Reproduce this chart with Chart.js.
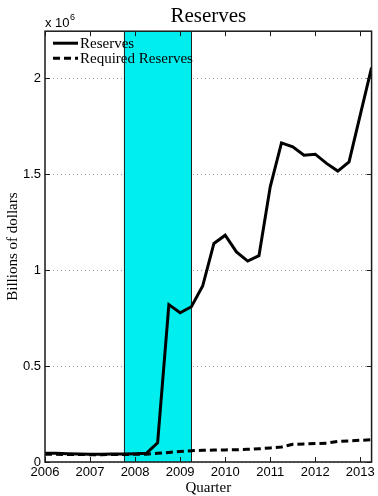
<!DOCTYPE html>
<html lang="en">
<head>
<meta charset="UTF-8">
<title>Reserves</title>
<script src="https://cdn.jsdelivr.net/npm/chart.js"></script>
<style>
    html, body {
        margin: 0;
        padding: 0;
        background: #ffffff;
    }
    #wrap {
        width: 378px;
        height: 496px;
    }
</style>
</head>
<body>
<div id="wrap"><canvas id="reservesChart"></canvas></div>
<script>
// Quarterly observations, 2006Q1 - 2013Q2 (values in units of 10^6)
const quarters = [
    2006, 2006.25, 2006.5, 2006.75,
    2007, 2007.25, 2007.5, 2007.75,
    2008, 2008.25, 2008.5, 2008.75,
    2009, 2009.25, 2009.5, 2009.75,
    2010, 2010.25, 2010.5, 2010.75,
    2011, 2011.25, 2011.5, 2011.75,
    2012, 2012.25, 2012.5, 2012.75,
    2013, 2013.25
];
const reserves = [
    0.046, 0.045, 0.043, 0.042,
    0.040, 0.041, 0.042, 0.042,
    0.043, 0.045, 0.100, 0.820,
    0.778, 0.809, 0.917, 1.139,
    1.182, 1.095, 1.047, 1.075,
    1.434, 1.663, 1.642, 1.599,
    1.604, 1.556, 1.516, 1.564,
    1.810, 2.055
];
const requiredReserves = [
    0.040, 0.040, 0.039, 0.039,
    0.038, 0.038, 0.039, 0.039,
    0.040, 0.041, 0.045, 0.050,
    0.055, 0.059, 0.061, 0.062,
    0.063, 0.064, 0.066, 0.069,
    0.073, 0.078, 0.092, 0.094,
    0.096, 0.098, 0.107, 0.110,
    0.113, 0.116
];
const seriesNames = ['Reserves', 'Required Reserves'];
const yearTicks = [2006, 2007, 2008, 2009, 2010, 2011, 2012, 2013];

// recession band
const recessionStart = 2007.75;
const recessionEnd = 2009.25;

const toPoints = vals => quarters.map((q, i) => ({ x: q, y: vals[i] }));

const serif = 'Liberation Serif, Times New Roman, serif';
const sans = 'Liberation Sans, Arial, sans-serif';

// shaded band, axes box with inward ticks, legend and the exponent label
const frame = {
    id: 'frame',
    beforeDatasetsDraw(chart) {
        const { ctx, chartArea: a, scales: { x } } = chart;
        const x0 = x.getPixelForValue(recessionStart);
        const x1 = x.getPixelForValue(recessionEnd);
        ctx.save();
        ctx.fillStyle = '#00eeee';
        ctx.fillRect(x0, a.top, x1 - x0, a.bottom - a.top);
        ctx.strokeStyle = '#222';
        ctx.lineWidth = 1;
        ctx.beginPath();
        ctx.moveTo(Math.round(x0) + 0.5, a.top);
        ctx.lineTo(Math.round(x0) + 0.5, a.bottom);
        ctx.moveTo(Math.round(x1) + 0.5, a.top);
        ctx.lineTo(Math.round(x1) + 0.5, a.bottom);
        ctx.stroke();
        ctx.restore();
    },
    afterDatasetsDraw(chart) {
        const { ctx, chartArea: a, scales: { x, y } } = chart;
        ctx.save();
        ctx.strokeStyle = '#1a1a1a';
        ctx.lineWidth = 1.5;
        ctx.strokeRect(a.left, a.top, a.right - a.left, a.bottom - a.top);
        ctx.lineWidth = 1;
        ctx.beginPath();
        x.ticks.forEach(t => {
            const px = Math.round(x.getPixelForValue(t.value)) + 0.5;
            ctx.moveTo(px, a.bottom); ctx.lineTo(px, a.bottom - 5);
            ctx.moveTo(px, a.top); ctx.lineTo(px, a.top + 5);
        });
        y.ticks.forEach(t => {
            const py = Math.round(y.getPixelForValue(t.value)) + 0.5;
            ctx.moveTo(a.left, py); ctx.lineTo(a.left + 5, py);
            ctx.moveTo(a.right, py); ctx.lineTo(a.right - 5, py);
        });
        ctx.stroke();
        ctx.restore();
    },
    afterDraw(chart) {
        const { ctx, chartArea: a } = chart;
        ctx.save();
        // legend
        const rows = [a.top + 12, a.top + 27];
        chart.data.datasets.forEach((ds, i) => {
            const yy = rows[i];
            ctx.strokeStyle = ds.borderColor;
            ctx.lineWidth = ds.borderWidth;
            ctx.setLineDash(ds.borderDash || []);
            ctx.beginPath();
            ctx.moveTo(a.left + 8, yy);
            ctx.lineTo(a.left + 33, yy);
            ctx.stroke();
            ctx.setLineDash([]);
            ctx.fillStyle = '#000';
            ctx.font = '15px ' + serif;
            ctx.textBaseline = 'middle';
            ctx.textAlign = 'left';
            ctx.fillText(ds.label, a.left + 35, yy + 1);
        });
        // exponent above the y axis
        ctx.fillStyle = '#000';
        ctx.textBaseline = 'alphabetic';
        ctx.font = '13px ' + sans;
        ctx.fillText('x 10', a.left, a.top - 4);
        const w = ctx.measureText('x 10').width;
        ctx.font = '9px ' + sans;
        ctx.fillText('6', a.left + w + 0.5, a.top - 11);
        ctx.restore();
    }
};

new Chart(document.getElementById('reservesChart'), {
    type: 'line',
    data: {
        datasets: [{
            label: seriesNames[0],
            data: toPoints(reserves),
            borderColor: '#000',
            borderWidth: 3,
            pointRadius: 0,
            tension: 0,
            fill: false
        }, {
            label: seriesNames[1],
            data: toPoints(requiredReserves),
            borderColor: '#000',
            borderWidth: 3,
            borderDash: [7, 4],
            pointRadius: 0,
            tension: 0,
            fill: false
        }]
    },
    options: {
        responsive: true,
        maintainAspectRatio: false,
        animation: false,
        layout: { padding: { left: 0, right: 4, top: 0, bottom: 0 } },
        plugins: {
            legend: { display: false },
            tooltip: { enabled: false },
            title: {
                display: true,
                text: 'Reserves',
                fullSize: false,
                color: '#000',
                font: { family: serif, size: 21, weight: 'normal', lineHeight: 1.2 },
                padding: { top: 4, bottom: 2 }
            }
        },
        scales: {
            x: {
                type: 'linear',
                min: 2006,
                max: 2013.25,
                afterBuildTicks(scale) {
                    scale.ticks = yearTicks.map(v => ({ value: v }));
                },
                afterFit(scale) { scale.height = 34; },
                grid: { display: false, drawTicks: false },
                border: { display: false },
                ticks: {
                    padding: 3,
                    color: '#000',
                    maxRotation: 0,
                    autoSkip: false,
                    font: { family: sans, size: 13 },
                    callback: v => String(v)
                },
                title: {
                    display: true,
                    text: 'Quarter',
                    color: '#000',
                    font: { family: serif, size: 15, lineHeight: 1 },
                    padding: { top: 0, bottom: 0 }
                }
            },
            y: {
                min: 0,
                max: 2.245,
                afterFit(scale) { scale.width = 45; },
                grid: { color: '#999', lineWidth: 1, drawTicks: false },
                border: { display: false, dash: [1, 3] },
                ticks: {
                    stepSize: 0.5,
                    includeBounds: false,
                    padding: 4,
                    color: '#000',
                    font: { family: sans, size: 13 },
                    callback: v => String(v)
                },
                title: {
                    display: true,
                    text: 'Billions of dollars',
                    color: '#000',
                    font: { family: serif, size: 15, lineHeight: 1.2 },
                    padding: { top: 4, bottom: 0 }
                }
            }
        }
    },
    plugins: [frame]
});
</script>
</body>
</html>
